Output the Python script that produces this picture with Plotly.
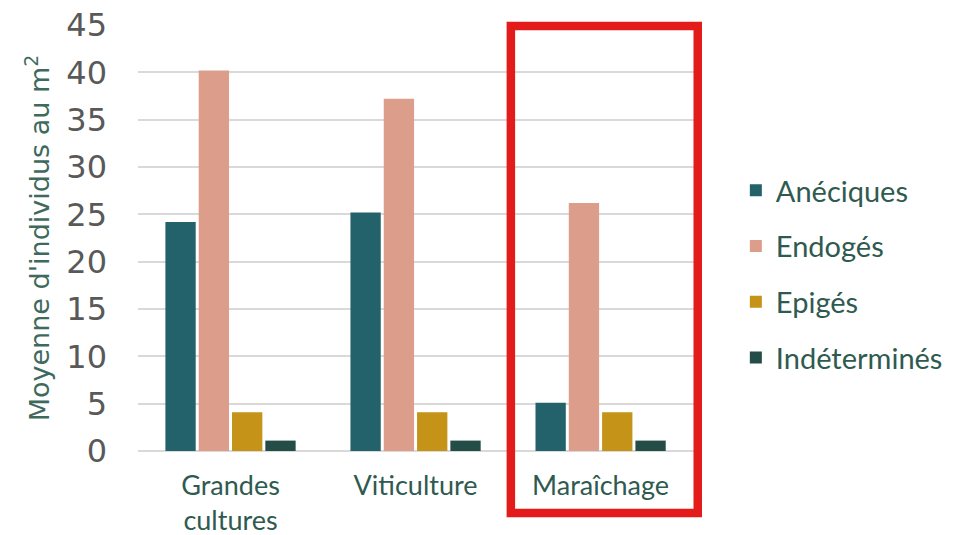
import plotly.graph_objects as go

categories = ["Grandes<br>cultures", "Viticulture", "Maraîchage"]
series_names = ["Anéciques", "Endogés", "Epigés", "Indéterminés"]
aneciques = [24.2, 25.2, 5.1]
endoges = [40.2, 37.2, 26.2]
epiges = [4.1, 4.1, 4.1]
indetermines = [1.1, 1.1, 1.1]
colors = ["#24626B", "#DC9E8A", "#C49317", "#244D47"]
y_ticks = [0, 5, 10, 15, 20, 25, 30, 35, 40, 45]

values = [aneciques, endoges, epiges, indetermines]

fig = go.Figure()
for name, vals, col in zip(series_names, values, colors):
    fig.add_trace(go.Bar(
        x=categories, y=vals, name=name, legendgroup=name,
        marker=dict(color=col, line=dict(width=0)),
    ))

fig.update_layout(
    width=955, height=535,
    margin=dict(l=138, r=253, t=25, b=84, autoexpand=False),
    paper_bgcolor="white", plot_bgcolor="white",
    barmode="group", bargap=0.28, bargroupgap=0.09,
    showlegend=True,
    legend=dict(
        x=1.06, xanchor="left", y=0.4155, yanchor="middle",
        font=dict(family="Lato", size=29, color="#2F5A50"),
        tracegroupgap=15, bgcolor="rgba(0,0,0,0)",
    ),
    xaxis=dict(
        tickfont=dict(family="Lato", size=27, color="#2F5A50"),
        showgrid=False, showline=False, ticks="", ticklabelstandoff=16,
        automargin=False,
    ),
    yaxis=dict(
        range=[0, 45], tickvals=y_ticks,
        tickfont=dict(family="DejaVu Sans", size=32, color="#595959"),
        showgrid=True, gridcolor="#D9D9D9", gridwidth=2,
        zeroline=True, zerolinecolor="#D9D9D9", zerolinewidth=2,
        showline=False, ticks="", ticklabelstandoff=30,
        automargin=False,
        title=dict(text="Moyenne d'individus au m<sup>2</sup>",
                   font=dict(family="DejaVu Sans", size=27, color="#3E6A5E"),
                   standoff=8),
    ),
    shapes=[dict(
        type="rect", xref="x", yref="paper",
        x0=1.515, x1=2.525, y0=-0.1455, y1=0.9977,
        line=dict(color="#E31B1B", width=8.5), layer="above",
    )],
)

fig.write_html("out.html", config={"displayModeBar": False},
               post_script="document.body.style.margin='0';")
